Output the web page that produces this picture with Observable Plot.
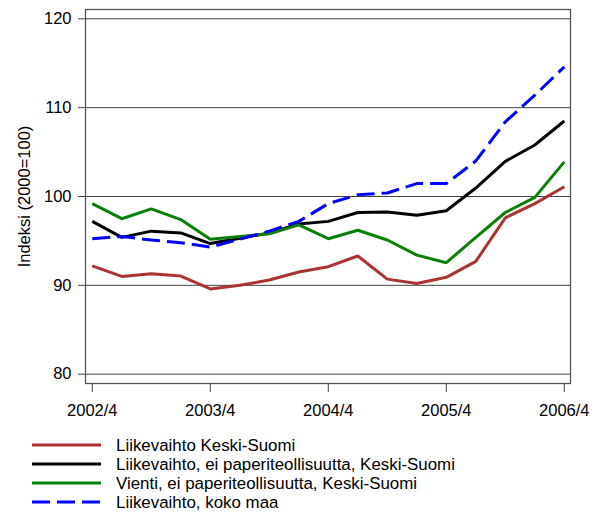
<!DOCTYPE html>
<html>
<head>
<meta charset="utf-8">
<script src="https://cdn.jsdelivr.net/npm/d3@7"></script>
<script src="https://cdn.jsdelivr.net/npm/@observablehq/plot@0.6"></script>
<style>
  body { margin: 0; background: #fff; }
  #chart { width: 600px; }
</style>
</head>
<body>
<div id="chart"></div>
<script>
const quarters = ["2002/4","2003/1","2003/2","2003/3","2003/4","2004/1","2004/2","2004/3","2004/4","2005/1","2005/2","2005/3","2005/4","2006/1","2006/2","2006/3","2006/4"];
const tickLabels = ["2002/4","2003/4","2004/4","2005/4","2006/4"];
const yTicks = [80, 90, 100, 110, 120];

const seriesNames = [
  "Liikevaihto Keski-Suomi",
  "Liikevaihto, ei paperiteollisuutta, Keski-Suomi",
  "Vienti, ei paperiteollisuutta, Keski-Suomi",
  "Liikevaihto, koko maa"
];
const redValues   = [92.2, 91.0, 91.3, 91.05, 89.6, 90.0, 90.6, 91.5, 92.1, 93.3, 90.7, 90.2, 90.9, 92.7, 97.6, 99.2, 101.1];
const blackValues = [97.2, 95.4, 96.1, 95.9, 94.7, 95.3, 95.9, 96.9, 97.2, 98.2, 98.25, 97.9, 98.4, 100.95, 103.95, 105.8, 108.5];
const greenValues = [99.2, 97.5, 98.6, 97.4, 95.2, 95.5, 95.8, 96.8, 95.25, 96.2, 95.1, 93.4, 92.55, 95.4, 98.2, 99.9, 103.9];
const blueValues  = [95.25, 95.5, 95.1, 94.8, 94.3, 95.2, 96.1, 97.2, 99.2, 100.2, 100.4, 101.45, 101.45, 104.0, 108.4, 111.4, 114.6];

const colors = ["#ab3333", "#000000", "#0a800a", "#0000ff"];
const dashes = [null, null, null, "18,7"];
const allValues = [redValues, blackValues, greenValues, blueValues];

const table = (vals) => vals.map((v, i) => ({i, q: quarters[i], v}));

const font = "Arial, 'Liberation Sans', sans-serif";

const chart = Plot.plot({
  width: 600,
  height: 425,
  marginLeft: 85,
  marginRight: 30,
  marginTop: 9,
  marginBottom: 42,
  style: {fontFamily: font, fontSize: "16.5px", color: "#000", background: "#fff"},
  x: {type: "linear", domain: [-0.23, 16.21]},
  y: {domain: [78.95, 121.05]},
  marks: [
    Plot.ruleY(yTicks, {stroke: "#444", strokeWidth: 1}),
    Plot.frame({stroke: "#555", strokeWidth: 1.3}),
    Plot.axisY({
      ticks: yTicks, tickSize: 7, tickPadding: 7, stroke: "#444",
      label: "Indeksi (2000=100)", labelAnchor: "center", labelArrow: "none", labelOffset: 67
    }),
    Plot.axisX({
      ticks: tickLabels.map(t => quarters.indexOf(t)),
      tickFormat: i => quarters[i],
      tickSize: 9, tickPadding: 12, stroke: "#444", label: null
    }),
    ...allValues.map((vals, k) => Plot.line(table(vals), {
      x: "i", y: "v", stroke: colors[k], strokeWidth: 3,
      strokeDasharray: dashes[k], strokeLinejoin: "miter", strokeLinecap: "butt"
    }))
  ]
});
document.getElementById("chart").appendChild(chart);

// Legend below the chart
const legend = d3.select("#chart").append("svg")
  .attr("width", 600).attr("height", 88)
  .style("display", "block")
  .style("font-family", font).style("font-size", "16.9px");
const rowY = [20, 39, 58, 77];
seriesNames.forEach((name, k) => {
  legend.append("line")
    .attr("x1", 32).attr("x2", 101).attr("y1", rowY[k]).attr("y2", rowY[k])
    .attr("stroke", colors[k]).attr("stroke-width", 3)
    .attr("stroke-dasharray", dashes[k]);
  legend.append("text")
    .attr("x", 116).attr("y", rowY[k]).attr("dy", "0.35em")
    .attr("fill", "#000").text(name);
});
</script>
</body>
</html>
